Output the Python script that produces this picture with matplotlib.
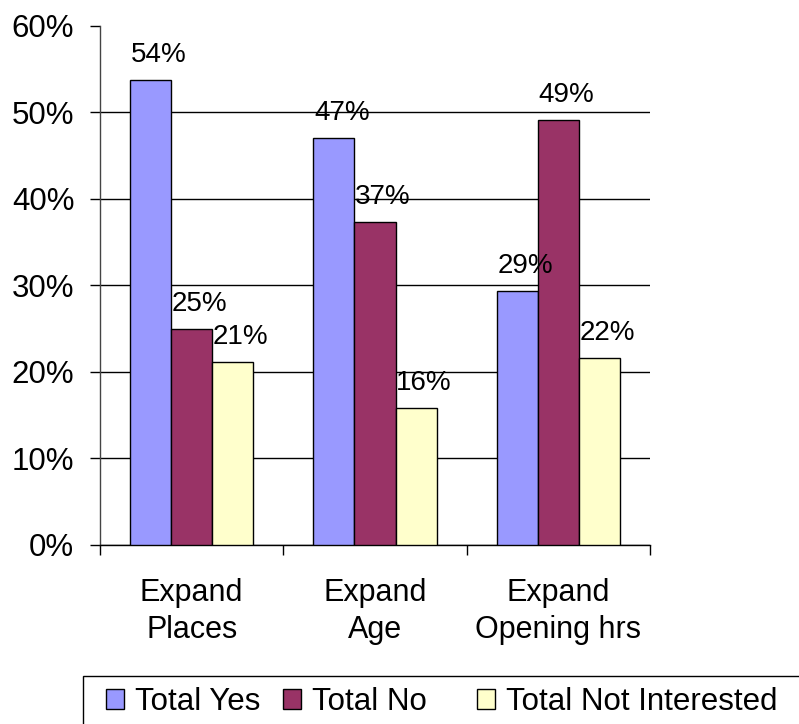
import numpy as np
import matplotlib
matplotlib.use('Agg')
import matplotlib.pyplot as plt
from matplotlib.patches import Rectangle, Patch

# === Data ===
categories = ['Expand\nPlaces', 'Expand\nAge', 'Expand\nOpening hrs']
series_names = ['Total Yes', 'Total No', 'Total Not Interested']
total_yes = [53.7, 47.0, 29.4]
total_no = [25.0, 37.3, 49.1]
total_not_interested = [21.1, 15.8, 21.6]
data_labels = [['54%', '47%', '29%'],
               ['25%', '37%', '49%'],
               ['21%', '16%', '22%']]
y_ticks = [0, 10, 20, 30, 40, 50, 60]

colors = ['#9999FF', '#993366', '#FFFFCC']

plt.rcParams['font.family'] = ['Liberation Sans', 'DejaVu Sans']

fig = plt.figure(figsize=(7.99, 7.24), dpi=100)
ax = fig.add_axes([100/799, 1 - 545/724, 550/799, (545 - 25.7)/724])

x = np.arange(len(categories))
width = 0.224
offsets = [-width, 0, width]
all_values = [total_yes, total_no, total_not_interested]

for vals, off, col, name, labs in zip(all_values, offsets, colors, series_names, data_labels):
    bars = ax.bar(x + off, vals, width, color=col, edgecolor='black', linewidth=1.0,
                  label=name, zorder=3)
    for bar, lab in zip(bars, labs):
        ax.annotate(lab, (bar.get_x() + bar.get_width() / 2, bar.get_height()),
                    xytext=(8, 18), textcoords='offset pixels',
                    ha='center', va='baseline', fontsize=20, zorder=4)

# === Axes styling ===
ax.set_xlim(-0.5, 2.5)
ax.set_ylim(0, 60)
ax.set_yticks(y_ticks)
ax.set_yticklabels([f'{t}%' for t in y_ticks])
ax.yaxis.grid(True, color='black', linewidth=1.0, zorder=0)
ax.get_ygridlines()[-1].set_visible(False)  # no line at the 60% top
ax.set_axisbelow(True)

ax.set_xticks(x)
ax.set_xticklabels(categories, linespacing=1.28)
ax.set_xticks([-0.5, 0.5, 1.5, 2.5], minor=True)
ax.tick_params(axis='x', which='major', length=0, pad=24, labelsize=22)
ax.tick_params(axis='x', which='minor', length=7.5, width=1.0, direction='out')
ax.tick_params(axis='y', length=7.5, width=1.0, direction='out', pad=11, labelsize=22.5)

for side in ['top', 'right']:
    ax.spines[side].set_visible(False)
for side in ['left', 'bottom']:
    ax.spines[side].set_linewidth(1.0)
ax.spines['left'].set_color('#444444')

# === Legend (box runs off the bottom-right of the image) ===
legend_x = [106, 283, 477]
for c, name, lx in zip(colors, series_names, legend_x):
    h = Patch(facecolor=c, edgecolor='black', linewidth=1.0)
    fig.legend([h], [name], loc='center left',
               bbox_to_anchor=(lx/799, (724 - 702)/724), frameon=False,
               fontsize=22.5, handlelength=0.58, handleheight=0.58,
               handletextpad=0.36, borderpad=0, borderaxespad=0)
fig.patches.append(Rectangle((83/799, -0.2), 1.0, 0.2 + (724 - 676)/724,
                             transform=fig.transFigure, fill=False,
                             edgecolor='black', linewidth=1.0))

plt.savefig('out.png', dpi=100)
